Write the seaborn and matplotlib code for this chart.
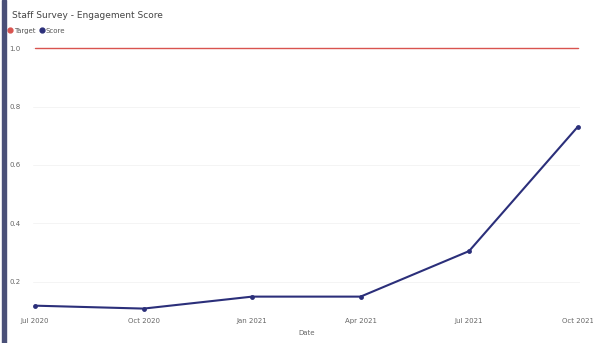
import matplotlib
matplotlib.use("Agg")
import matplotlib.pyplot as plt
import seaborn as sns
import pandas as pd
from matplotlib.lines import Line2D
from matplotlib.patches import Rectangle

periods = ["Jul 2020", "Oct 2020", "Jan 2021", "Apr 2021", "Jul 2021", "Oct 2021"]
score = [0.118, 0.108, 0.149, 0.149, 0.305, 0.73]
target = [1.0, 1.0, 1.0, 1.0, 1.0, 1.0]
y_ticks = [0.2, 0.4, 0.6, 0.8, 1.0]

df = pd.DataFrame({"Period": periods, "Score": score, "Target": target})

sns.set_theme(style="white")
plt.rcParams["font.family"] = ["DejaVu Sans"]

target_color = "#d9534f"
score_color = "#2b2f7a"

fig = plt.figure(figsize=(5.93, 3.43), dpi=100)
ax = fig.add_axes([0.0556, 0.085, 0.922, 0.8])

sns.lineplot(data=df, x="Period", y="Target", ax=ax, color=target_color,
             linewidth=1.0, sort=False, legend=False)
sns.lineplot(data=df, x="Period", y="Score", ax=ax, color=score_color,
             linewidth=1.5, marker="o", markersize=3.5, markeredgewidth=0,
             sort=False, legend=False)

ax.set_xlim(-0.02, 5.02)
ax.set_ylim(0.09, 1.03)
ax.set_yticks(y_ticks)
ax.set_yticklabels([f"{v:.1f}" for v in y_ticks], fontsize=5, color="#666666")
ax.tick_params(axis="x", labelsize=5, colors="#666666", length=0, pad=3)
ax.tick_params(axis="y", length=0, pad=9)
ax.set_xlabel("Date", fontsize=5, color="#666666", labelpad=4)
ax.set_ylabel("")
ax.grid(axis="y", color="#f2f2f2", linewidth=0.6)
for s in ax.spines.values():
    s.set_visible(False)

handles = [
    Line2D([], [], linestyle="none", marker="o", markersize=3.5, color=target_color),
    Line2D([], [], linestyle="none", marker="o", markersize=3.5, color=score_color),
]
leg = ax.legend(handles, ["Target", "Score"], loc="lower left",
                bbox_to_anchor=(-0.05, 1.01), ncol=2, frameon=False, fontsize=5,
                handlelength=0.6, handletextpad=0.2, columnspacing=0.6,
                borderaxespad=0)
for t in leg.get_texts():
    t.set_color("#555555")

fig.text(0.02, 0.955, "Staff Survey - Engagement Score", fontsize=6.5,
         color="#444444", ha="left", va="center")

# dark accent bar along the left edge
fig.patches.append(Rectangle((0.004, 0.0), 0.006, 1.0, transform=fig.transFigure,
                             color="#4a5078", zorder=5))

fig.savefig("out.png", dpi=100)
